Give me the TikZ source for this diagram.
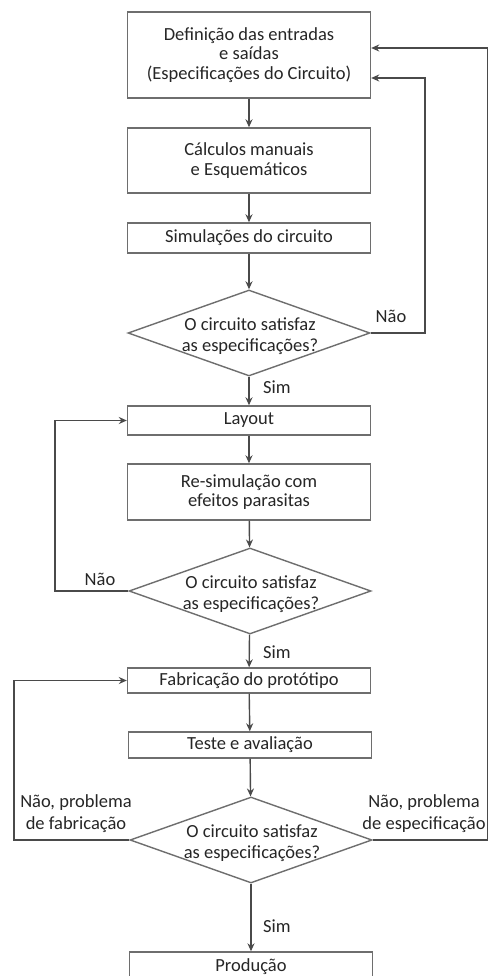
\documentclass[tikz,border=0pt]{standalone}
\usepackage{fontspec}
\setmainfont{Carlito}
\usetikzlibrary{shapes.geometric,arrows.meta}

\definecolor{ink}{HTML}{262626}
\definecolor{frame}{HTML}{6E6E6E}
\definecolor{wire}{HTML}{4A4A4A}

\tikzset{
  stepbox/.style={draw=frame, line width=1.4pt, rectangle, minimum width=243pt,
    inner sep=0pt, align=center, text=ink, font=\fontsize{18.5}{19.5}\selectfont},
  decision/.style={draw=frame, line width=1.4pt, diamond, inner sep=0pt,
    minimum width=242pt, minimum height=86pt},
  qtext/.style={align=center, text=ink, inner sep=0pt,
    font=\fontsize{18.5}{21}\selectfont},
  lbl/.style={align=center, text=ink, inner sep=0pt,
    font=\fontsize{18.5}{22}\selectfont},
  conn/.style={draw=wire, line width=1.4pt, -{Stealth[length=8pt,width=7pt]}},
}

\begin{document}
\begin{tikzpicture}[x=1pt, y=-1pt]
  \clip (0,0) rectangle (488,976);
  \useasboundingbox (0,0) rectangle (488,976);
  \fill[white] (0,0) rectangle (488,976);

  % process steps
  \node[stepbox, minimum height=86pt] (b1) at (249,55)
    {Definição das entradas\\e saídas\\(Especificações do Circuito)};
  \node[stepbox, minimum height=65pt] (b2) at (249,160.5)
    {Cálculos manuais\\e Esquemáticos};
  \node[stepbox, minimum height=30pt] (b3) at (249,238) {Simulações do circuito};
  \node[decision] (q1) at (249,333) {};
  \node[qtext] (q1t) at (250,336) {O circuito satisfaz\\as especificações?};
  \node[stepbox, minimum height=29pt] (b4) at (249,420.5) {Layout};
  \node[stepbox, minimum height=56pt] (b5) at (249,492)
    {Re-simulação com\\efeitos parasitas};
  \node[decision] (q2) at (250,591) {};
  \node[qtext] (q2t) at (251,594.5) {O circuito satisfaz\\as especificações?};
  \node[stepbox, minimum height=25pt] (b6) at (249,680.5) {Fabricação do\ protótipo};
  \node[stepbox, minimum height=26pt] (b7) at (250,745) {Teste e avaliação};
  \node[decision] (q3) at (251,840) {};
  \node[qtext] (q3t) at (252,843) {O circuito satisfaz\\as especificações?};
  \node[stepbox, minimum height=30pt] (b8) at (251,967) {Produção};

  % main flow
  \draw[conn] (b1) -- (b2);
  \draw[conn] (b2) -- (b3);
  \draw[conn] (b3) -- (q1);
  \draw[conn] (q1) -- (b4);
  \draw[conn] (b4) -- (b5);
  \draw[conn] (b5) -- (q2);
  \draw[conn] (q2) -- (b6);
  \draw[conn] (b6) -- (b7);
  \draw[conn] (b7) -- (q3);
  \draw[conn] (q3) -- (b8);

  \node[lbl] (s1) at (277,387) {Sim};
  \node[lbl] (s2) at (277,652) {Sim};
  \node[lbl] (s3) at (277,926) {Sim};

  % feedback loops
  \coordinate (r1) at (425,78);
  \draw[conn] (q1.east) -| (r1) -- (b1.east |- r1);
  \node[lbl] (n1) at (391,316) {Não};

  \coordinate (l1) at (55,420.5);
  \draw[conn] (q2.west) -| (l1) -- (b4.west);
  \node[lbl] (n2) at (100,579) {Não};

  \coordinate (l2) at (14,680.5);
  \draw[conn] (q3.west) -| (l2) -- (b6.west);
  \node[lbl] (n3) at (76,814) {Não, problema\\de fabricação};

  % the return path runs along the very edge of the sheet
  \coordinate (r2) at (487.6,48);
  \draw[conn] (q3.east) -| (r2) -- (b1.east |- r2);
  \node[lbl] (n4) at (424,814) {Não, problema\\de especificação};
\end{tikzpicture}
\end{document}
